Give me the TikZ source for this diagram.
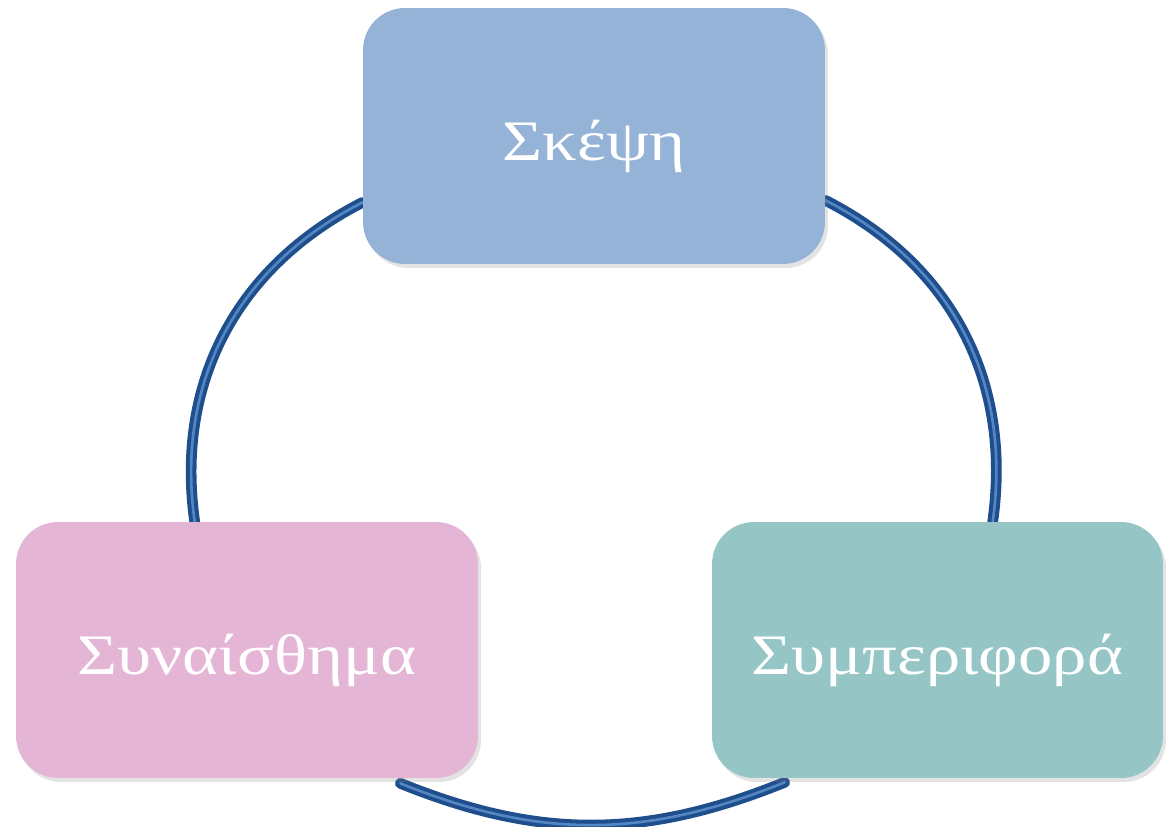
\documentclass[tikz,border=0pt]{standalone}
\usepackage{fontspec}
\setmainfont{Liberation Serif}[FakeStretch=1.2]
\usetikzlibrary{calc,shadows,backgrounds}
\definecolor{thinkblue}{RGB}{149,179,215}
\definecolor{feelpink}{RGB}{228,181,213}
\definecolor{actteal}{RGB}{150,197,198}
\definecolor{ringdark}{RGB}{31,78,140}
\definecolor{ringlight}{RGB}{84,134,196}
\tikzset{
  stage/.style={rounded corners=0.84cm, minimum height=5.12cm, text=white,
    font=\fontsize{32.6}{38}\selectfont, text height=1.1cm, text depth=0.1cm,
    drop shadow={shadow xshift=0.06cm, shadow yshift=-0.08cm, opacity=0.22}},
  ring/.style={draw=ringdark, line width=2.3pt, double=ringlight, double distance=1.5pt, line cap=round}
}

\begin{document}
\begin{tikzpicture}[x=0.02cm,y=0.02cm]
			%%%%% START %%%%%
			\useasboundingbox (0,0) rectangle (1166,827);
			
			\node[stage, fill=thinkblue, minimum width=9.24cm] (think) at (594,691) {Σκέψη};
			\node[stage, fill=feelpink, minimum width=9.24cm] (feel) at (247,177) {Συναίσθημα};
			\node[stage, fill=actteal, minimum width=9.02cm] (act) at (937.5,177) {Συμπεριφορά};
			
			\coordinate (tl) at ($(think.south west)+(0,62)$);
			\coordinate (tr) at ($(think.south east)+(0,64)$);
			\coordinate (fl) at ($(feel.north west)+(179,0)$);
			\coordinate (fb) at ($(feel.south east)+(-78,-5)$);
			\coordinate (ab) at ($(act.south west)+(73,-4)$);
			\coordinate (ar) at ($(act.north west)+(281,0)$);
			
			\begin{scope}[on background layer]
			\draw[ring] (tl) to[out=207, in=98] (fl);
			\draw[ring] (tr) to[out=-27, in=82] (ar);
			\draw[ring] (fb) to[out=-22, in=202] (ab);
			\end{scope}
			
			%%%%% END %%%%%
\end{tikzpicture}
\end{document}
